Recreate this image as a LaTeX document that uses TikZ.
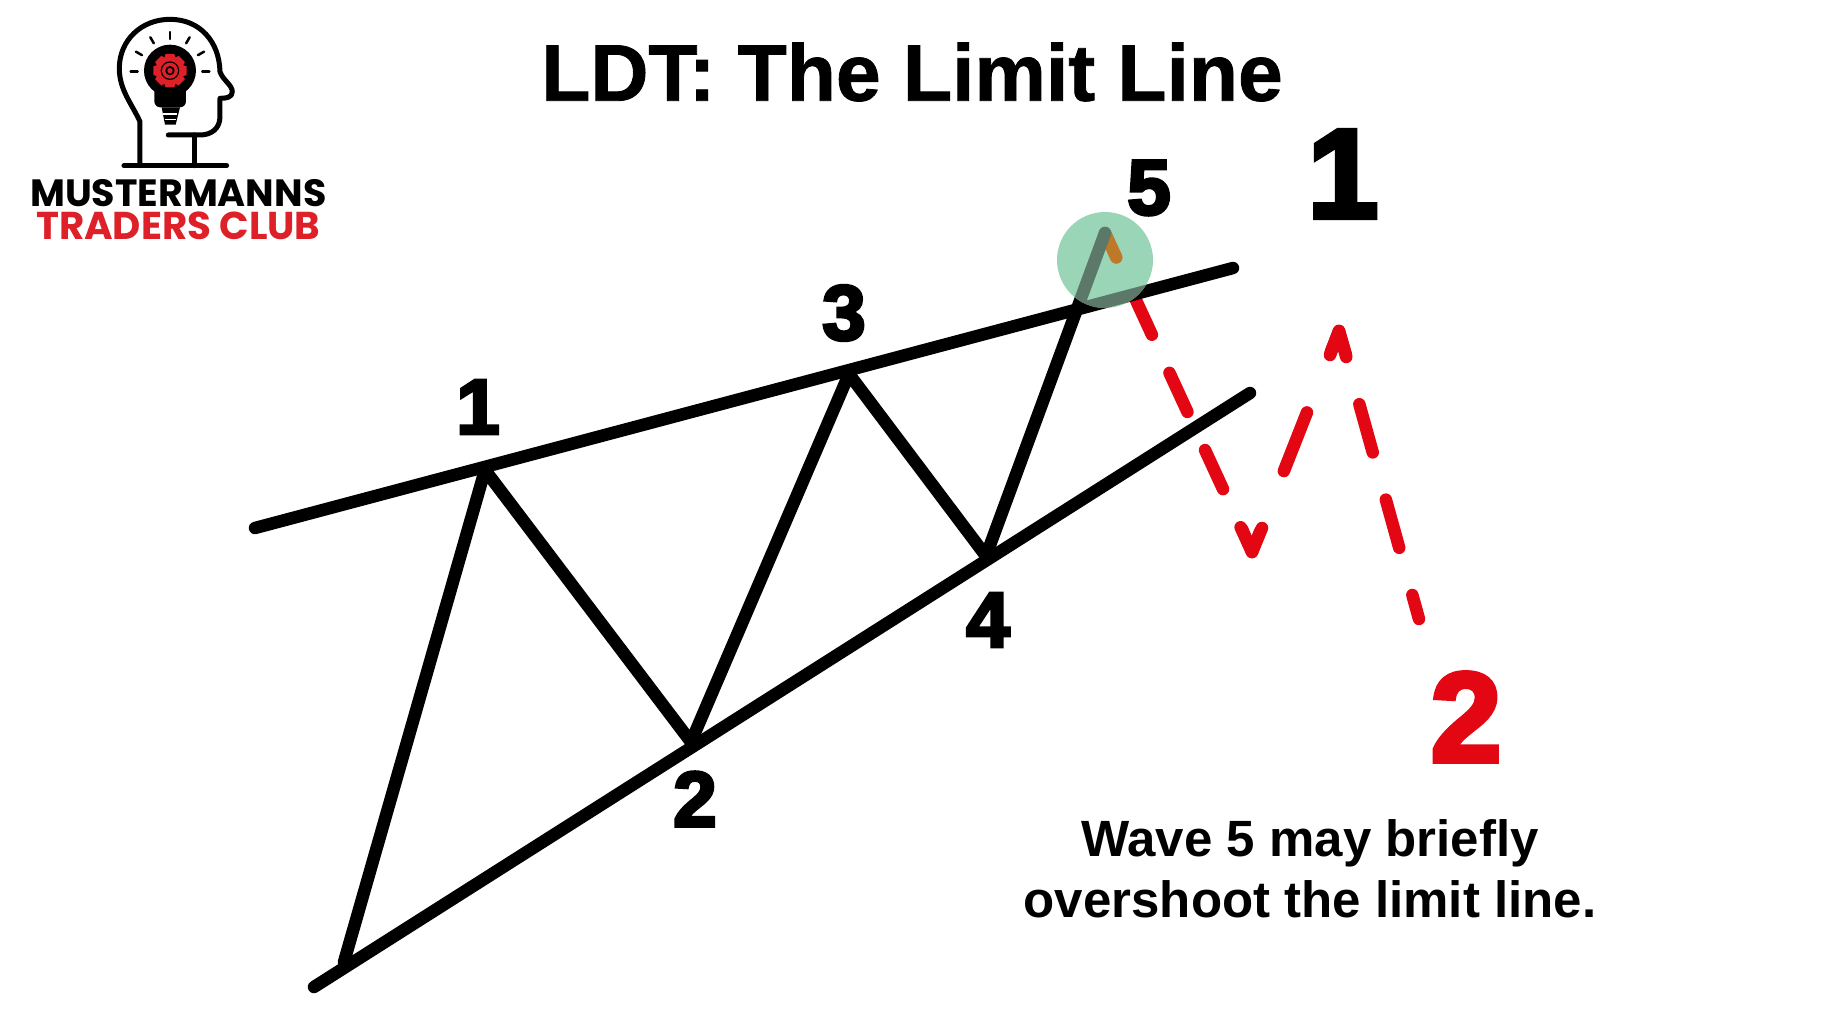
\documentclass[tikz,border=0pt]{standalone}
\usepackage{fontspec}
\setmainfont{Liberation Sans}
\newfontfamily\logofont{Poppins}
\newfontfamily\heavyfont{Liberation Sans}[BoldFeatures={FakeBold=4}]
\newfontfamily\titlefont{Liberation Sans}[BoldFeatures={FakeBold=1}]
\usetikzlibrary{calc}

\definecolor{wavered}{RGB}{227,6,19}
\definecolor{logored}{RGB}{222,32,40}
\definecolor{circlegreen}{RGB}{155,213,183}
\definecolor{circledark}{RGB}{92,120,105}
\definecolor{circleorange}{RGB}{190,120,40}

\tikzset{
  wave/.style = {line width=12.5pt, line cap=round, line join=round},
  count/.style = {font=\heavyfont\bfseries\fontsize{78}{78}\selectfont, inner sep=0pt},
  big count/.style = {font=\heavyfont\bfseries\fontsize{127}{127}\selectfont, inner sep=0pt},
  head/.style = {line width=5pt, line cap=round, line join=round},
}

\begin{document}
\begin{tikzpicture}[x=1pt, y=-1pt]
  \useasboundingbox (0,0) rectangle (1821,1025);

  % wave points
  \coordinate (S) at (344,962);
  \coordinate (W1) at (485,470);
  \coordinate (W2) at (691,742);
  \coordinate (W3) at (849,374);
  \coordinate (W4) at (986,556);
  \coordinate (W5) at (1105,233);

  % limit lines
  \coordinate (UL) at (255,528);
  \coordinate (UR) at (1233,268);
  \coordinate (LL) at (314,987);
  \coordinate (LR) at (1250,393);

  % red path with its two heads
  \coordinate (RA) at (1252,552);
  \coordinate (RAl) at (1242,529);
  \coordinate (RAr) at (1262,528);
  \coordinate (RB) at (1339,331);
  \coordinate (RBl) at (1330,355);
  \coordinate (RBr) at (1346,355);
  \coordinate (RC) at (1419,619);

  \node[font=\titlefont\bfseries\fontsize{80.4}{81}\selectfont] (title) at (912,72) {LDT: The Limit Line};

  \draw[wave, wavered, dash pattern=on 43pt off 42pt, dash phase=16pt] (W5) -- (RA);
  \draw[wave, wavered, dash pattern=on 63pt off 65pt, dash phase=41pt] (RA) -- (RB);
  \draw[wave, wavered, dash pattern=on 50pt off 49pt, dash phase=23pt] (RB) -- (RC);
  \draw[wave, wavered] (RAl) -- (RA) -- (RAr);
  \draw[wave, wavered] (RBl) -- (RB) -- (RBr);

  \draw[wave] (UL) -- (UR);
  \draw[wave] (LL) -- (LR);
  \draw[wave] (S) -- (W1) -- (W2) -- (W3) -- (W4) -- (W5);

  % highlight on top of wave 5
  \fill[circlegreen] (1105,260) circle (48pt);
  \begin{scope}
    \clip (1105,260) circle (48pt);
    \draw[wave, circleorange, dash pattern=on 43pt off 42pt, dash phase=16pt] (W5) -- (RA);
    \draw[wave, circledark] (UL) -- (UR);
    \draw[wave, circledark] (W4) -- (W5);
  \end{scope}

  \node[count] (n1) at (478,407) {1};
  \node[count] (n2) at (695,799) {2};
  \node[count] (n3) at (844,313) {3};
  \node[count] (n4) at (988,620) {4};
  \node[count] (n5) at (1149,188) {5};
  \node[big count] (big1) at (1343,174) {1};
  \node[big count, wavered] (big2) at (1466,717) {2};

  \node[align=center, font=\bfseries\fontsize{51}{61}\selectfont] (note) at (1310,869)
    {Wave 5 may briefly\\overshoot the limit line.};

  % logo, in its own units
  \begin{scope}[x=0.3333pt, y=-0.3333pt]
    \draw[head] (420,497) -- (420,365) .. controls (395,310) and (358,270) .. (358,205)
      .. controls (358,120) and (425,58) .. (510,58)
      .. controls (600,58) and (658,125) .. (660,215)
      .. controls (668,240) and (697,255) .. (697,275)
      .. controls (697,292) and (680,295) .. (660,295)
      -- (660,350) .. controls (660,385) and (635,405) .. (600,405) -- (505,405);
    \draw[head] (583,405) -- (583,497);
    \draw[head] (372,497) -- (680,497);

    \fill (510,212) circle (78);
    \fill[rounded corners=6pt] (463,250) rectangle (558,322);
    \fill (485,322) -- (540,322) -- (527,374) -- (495,374) -- cycle;
    \draw[white, line width=1.5pt] (490,342) -- (532,342);
    \draw[white, line width=1.5pt] (494,358) -- (528,358);

    \foreach \a in {0,30,...,180}
      \draw[line width=2.5pt, line cap=round] ($(510,214)+({-\a}:{97})$) -- ($(510,214)+({-\a}:{118})$);

    \foreach \a in {0,45,...,315}
      \fill[logored, rotate around={\a:(510,212)}] (497,162) -- (523,162) -- (532,190) -- (488,190) -- cycle;
    \fill[logored] (510,212) circle (38);
    \fill (510,212) circle (28);
    \fill[logored] (510,212) circle (24);
    \fill (510,212) circle (14);
    \fill[logored] (510,212) circle (8);

    \node[logored, inner sep=0pt, font=\logofont\bfseries\fontsize{38.8}{38.8}\selectfont] (club) at (535,677) {TRADERS CLUB};
    \node[inner sep=0pt, font=\logofont\bfseries\fontsize{38}{38}\selectfont] (brand) at (535,579) {MUSTERMANNS};
  \end{scope}
\end{tikzpicture}
\end{document}
